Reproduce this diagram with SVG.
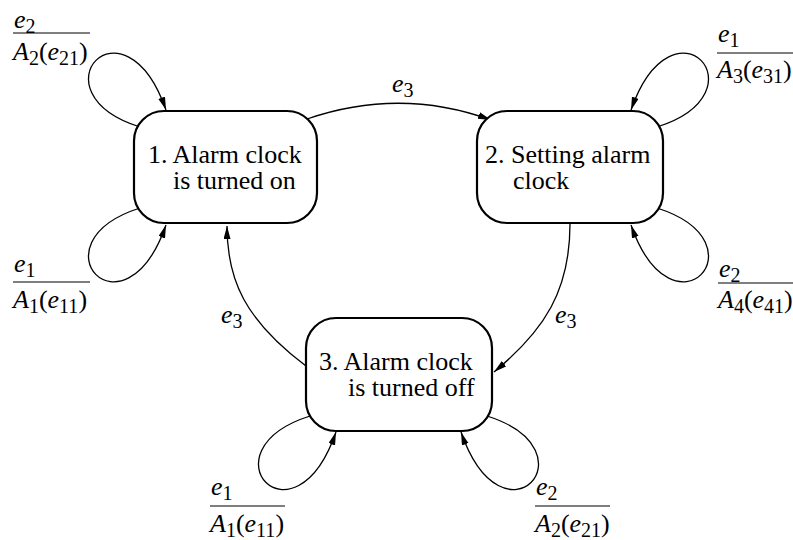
<svg xmlns="http://www.w3.org/2000/svg" width="793" height="540" viewBox="0 0 793 540">
  <style>
    .box { fill: #fff; stroke: #000; stroke-width: 2.2; }
    .name { font-family: "Liberation Serif", "Times New Roman", serif; font-size: 26px; fill: #000; }
    .lbl { font-family: "Liberation Serif", "Times New Roman", serif; font-size: 26px; font-style: italic; fill: #000; }
    .sub { font-size: 20px; font-style: normal; }
    .up { font-style: normal; }
    .edge { fill: none; stroke: #000; stroke-width: 1.3; marker-end: url(#arrow); }
    .bar { stroke: #000; stroke-width: 1.2; }
  </style>
  <defs>
    <marker id="arrow" markerUnits="userSpaceOnUse" markerWidth="14" markerHeight="8" refX="13" refY="3.5" orient="auto">
      <path d="M0,0 L13,3.5 L0,7 z" fill="#000"/>
    </marker>
  </defs>
  <rect width="793" height="540" fill="#fff"/>

  <!-- transitions: e3 cycle and self-loops -->
  <g id="connectors">
    <path class="edge" d="M307,119 Q400,87 491,120"/>
    <path class="edge" d="M570,224 C570,290 545,330 494,372"/>
    <path class="edge" d="M306,366 C245,320 227,280 227,226"/>
    <path class="edge" d="M140,127 C30,92 124,-10 166,110"/>
    <path class="edge" d="M140,208 C30,243 124,345 166,225"/>
    <path class="edge" d="M657,127 C767,92 673,-10 631,110"/>
    <path class="edge" d="M657,208 C767,243 673,345 631,225"/>
    <path class="edge" d="M310,416 C200,451 294,553 336,432"/>
    <path class="edge" d="M487,416 C597,451 503,553 461,432"/>
  </g>

  <!-- states -->
  <g id="state1">
    <rect class="box" x="134" y="111" width="183" height="112" rx="30"/>
    <text class="name" x="148" y="163">1. Alarm clock</text>
    <text class="name" x="173" y="189">is turned on</text>
  </g>
  <g id="state2">
    <rect class="box" x="477" y="111" width="186" height="112" rx="30"/>
    <text class="name" x="485" y="163">2. Setting alarm</text>
    <text class="name" x="513" y="189">clock</text>
  </g>
  <g id="state3">
    <rect class="box" x="306" y="318" width="186" height="113" rx="30"/>
    <text class="name" x="319" y="370">3. Alarm clock</text>
    <text class="name" x="348" y="396">is turned off</text>
  </g>

  <!-- event / action labels -->
  <g id="labels">
    <text class="lbl" x="392" y="92">e<tspan class="sub" dy="5">3</tspan></text>
    <text class="lbl" x="221" y="323">e<tspan class="sub" dy="5">3</tspan></text>
    <text class="lbl" x="555" y="323">e<tspan class="sub" dy="5">3</tspan></text>

    <line class="bar" x1="13" y1="33" x2="90" y2="33"/>
    <line class="bar" x1="13" y1="282" x2="90" y2="282"/>
    <line class="bar" x1="717" y1="53" x2="793" y2="53"/>
    <line class="bar" x1="718" y1="283" x2="793" y2="283"/>
    <line class="bar" x1="210" y1="506" x2="285" y2="506"/>
    <line class="bar" x1="535" y1="506" x2="610" y2="506"/>

    <text class="lbl" x="14" y="28">e<tspan class="sub" dy="5">2</tspan></text>
    <text class="lbl" x="13" y="60">A<tspan class="sub" dy="5">2</tspan><tspan class="up" dy="-5">(</tspan>e<tspan class="sub" dy="5">21</tspan><tspan class="up" dy="-5">)</tspan></text>

    <text class="lbl" x="14" y="272">e<tspan class="sub" dy="5">1</tspan></text>
    <text class="lbl" x="13" y="308">A<tspan class="sub" dy="5">1</tspan><tspan class="up" dy="-5">(</tspan>e<tspan class="sub" dy="5">11</tspan><tspan class="up" dy="-5">)</tspan></text>

    <text class="lbl" x="718" y="42">e<tspan class="sub" dy="5">1</tspan></text>
    <text class="lbl" x="717" y="78">A<tspan class="sub" dy="5">3</tspan><tspan class="up" dy="-5">(</tspan>e<tspan class="sub" dy="5">31</tspan><tspan class="up" dy="-5">)</tspan></text>

    <text class="lbl" x="719" y="277">e<tspan class="sub" dy="5">2</tspan></text>
    <text class="lbl" x="718" y="308">A<tspan class="sub" dy="5">4</tspan><tspan class="up" dy="-5">(</tspan>e<tspan class="sub" dy="5">41</tspan><tspan class="up" dy="-5">)</tspan></text>

    <text class="lbl" x="211" y="495">e<tspan class="sub" dy="5">1</tspan></text>
    <text class="lbl" x="210" y="532">A<tspan class="sub" dy="5">1</tspan><tspan class="up" dy="-5">(</tspan>e<tspan class="sub" dy="5">11</tspan><tspan class="up" dy="-5">)</tspan></text>

    <text class="lbl" x="536" y="495">e<tspan class="sub" dy="5">2</tspan></text>
    <text class="lbl" x="535" y="532">A<tspan class="sub" dy="5">2</tspan><tspan class="up" dy="-5">(</tspan>e<tspan class="sub" dy="5">21</tspan><tspan class="up" dy="-5">)</tspan></text>
  </g>
</svg>
